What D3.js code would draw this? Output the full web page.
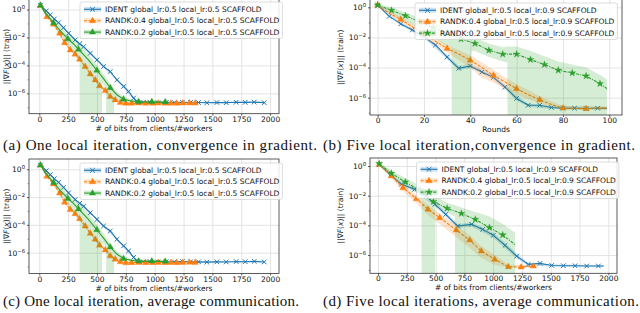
<!DOCTYPE html>
<html>
<head>
<meta charset="utf-8">
<script src="https://cdn.jsdelivr.net/npm/d3@7"></script>
<style>
  body { margin: 0; background: #fff; }
  svg text { font-family: "DejaVu Sans", sans-serif; fill: #111; }
  .caption { font-family: "Liberation Serif", serif; }
</style>
</head>
<body>
<div id="chart"></div>
<script>

// tick values
const bitTicks = [0, 250, 500, 750, 1000, 1250, 1500, 1750, 2000];
const roundTicks = [0, 20, 40, 60, 80, 100];
const yTickExps = [0, -2, -4, -6];
const yMinorExps = [1, -1, -3, -5, -7];

const legendOne = [
    "IDENT global_lr:0.5 local_lr:0.5 SCAFFOLD",
    "RANDK:0.4 global_lr:0.5 local_lr:0.5 SCAFFOLD",
    "RANDK:0.2 global_lr:0.5 local_lr:0.5 SCAFFOLD"
];
const legendFive = [
    "IDENT global_lr:0.5 local_lr:0.9 SCAFFOLD",
    "RANDK:0.4 global_lr:0.5 local_lr:0.9 SCAFFOLD",
    "RANDK:0.2 global_lr:0.5 local_lr:0.9 SCAFFOLD"
];
const captions = [
    "(a) One local iteration, convergence in gradient.",
    "(b) Five local iteration,convergence in gradient.",
    "(c) One local iteration, average communication.",
    "(d) Five local iterations, average communication."
];

// values are log10 of ||grad F(x)||, lines: [x, mean], bands: [x, low, high] (null low = below zero)
// one local iteration, x = bits/#workers  (same run in (a) and (c))
const identOne = [[10,0.3],[60,-0.1],[95,-0.39],[130,-0.68],[167,-0.94],[210,-1.3],[254,-1.7],[311,-2.18],[350,-2.45],[384,-2.66],[442,-3.13],[500,-3.61],[557,-4.08],[615,-4.44],[673,-5.04],[731,-5.51],[774,-5.87],[817,-6.34],[846,-6.58],[900,-6.66],[960,-6.64],[1030,-6.67],[1100,-6.65],[1170,-6.66],[1240,-6.64],[1310,-6.66],[1380,-6.66],[1452,-6.68],[1539,-6.66],[1620,-6.67],[1706,-6.64],[1784,-6.65],[1862,-6.63],[1949,-6.67]];
const identOneBand = [[10,0.25,0.35],[167,-1.0,-0.88],[311,-2.25,-2.1],[500,-3.68,-3.54],[673,-5.12,-4.96],[817,-6.42,-6.26],[846,-6.63,-6.52],[1000,-6.7,-6.6],[1949,-6.7,-6.62]];
const randk4One = [[10,0.3],[66,-0.51],[124,-1.06],[176,-1.7],[219,-2.37],[268,-2.89],[310,-3.2],[349,-3.56],[398,-4.08],[442,-4.61],[485,-5.04],[522,-5.46],[572,-5.8],[615,-6.23],[658,-6.47],[702,-6.66],[750,-6.72],[800,-6.72],[860,-6.7],[920,-6.72],[980,-6.72],[1030,-6.7],[1090,-6.72],[1140,-6.71],[1192,-6.72],[1244,-6.7],[1302,-6.69],[1351,-6.7]];
const randk4OneBand = [[10,0.22,0.38],[124,-1.15,-0.97],[219,-2.48,-2.26],[349,-3.68,-3.44],[485,-5.17,-4.91],[615,-6.38,-6.08],[702,-6.76,-6.56],[800,-6.77,-6.66],[1351,-6.76,-6.64]];
const randk2One = [[10,0.3],[67,-0.4],[124,-0.95],[185,-1.55],[248,-2.1],[295,-2.45],[340,-2.85],[420,-3.55],[499,-4.35],[557,-4.95],[615,-5.6],[672,-6.1],[730,-6.42],[795,-6.55],[860,-6.6],[918,-6.62],[975,-6.6],[1035,-6.63],[1091,-6.62]];
const randk2OneBand = [[10,0.2,0.4],[124,-1.15,-0.75],[200,-1.95,-1.3],[248,-2.55,-1.85],[300,-3.1,-2.2],[349,-3.5,-2.5],[350,null,-2.5],[420,null,-3.15],[499,null,-3.95],[543,null,-4.45],[544,-5.3,-4.5],[579,-5.6,-4.85],[580,null,-4.9],[615,null,-5.3],[648,null,-5.65],[649,-6.45,-5.7],[700,-6.55,-6.1],[730,-6.6,-6.25],[800,-6.65,-6.45],[1091,-6.67,-6.56]];

// five local iterations, x = rounds
const identRounds = [[0,0.15],[5,-0.6],[10,-1.1],[15,-1.5],[20,-1.95],[25,-2.5],[30,-3.3],[35,-4.05],[40,-3.9],[45,-4.3],[50,-4.65],[55,-5.3],[60,-6.05],[65,-6.5],[70,-6.5],[75,-6.65],[80,-6.7],[85,-6.7],[90,-6.72],[95,-6.7],[99,-6.7]];
const identRoundsBand = [[0,0.1,0.2],[10,-1.2,-1.0],[20,-2.05,-1.85],[30,-3.45,-3.15],[35,-4.2,-3.9],[40,-4.0,-3.75],[50,-4.8,-4.5],[55,-5.45,-5.15],[60,-6.2,-5.85],[65,-6.6,-6.4],[75,-6.75,-6.55],[99,-6.78,-6.62]];
const randk4Rounds = [[0,0.15],[5,-0.4],[10,-0.8],[15,-1.3],[20,-1.75],[25,-2.25],[30,-2.73],[35,-3.1],[40,-3.51],[45,-4.0],[50,-4.51],[55,-4.95],[60,-5.4],[65,-5.8],[70,-6.13],[75,-6.45],[80,-6.69],[85,-6.72],[90,-6.73],[95,-6.7],[99,-6.68]];
const randk4RoundsBand = [[0,0.1,0.2],[10,-1.0,-0.65],[20,-2.0,-1.55],[30,-3.0,-2.5],[35,-3.5,-2.85],[40,-4.0,-3.2],[45,-4.7,-3.65],[50,-5.0,-4.15],[55,-5.4,-4.65],[60,-5.8,-5.1],[70,-6.4,-5.9],[80,-6.8,-6.55],[99,-6.8,-6.58]];
const randk2Rounds = [[0,0.15],[6,-0.2],[12,-0.56],[18,-0.95],[24,-1.35],[30,-1.75],[36,-2.1],[42,-2.4],[48,-2.85],[54,-3.11],[60,-3.11],[66,-3.47],[72,-3.8],[78,-4.18],[84,-4.36],[90,-4.56],[96,-5.07],[99,-5.4]];
const randk2RoundsBand = [[0,0.1,0.2],[6,-0.45,0.0],[12,-0.9,-0.35],[18,-1.4,-0.7],[24,-1.95,-1.05],[30,-2.6,-1.4],[31.9,-2.7,-1.5],[32,null,-1.5],[36,null,-1.75],[40.4,null,-1.95],[40.5,-2.9,-1.95],[42,-2.9,-2.0],[48,-3.3,-2.4],[54,-3.6,-2.65],[56,-3.65,-2.6],[56.1,null,-2.6],[60,null,-2.6],[66,null,-2.9],[72,null,-3.25],[78,null,-3.6],[84,null,-3.8],[90,null,-4.0],[96,null,-4.5],[99,null,-4.8]];

// five local iterations, x = bits/#workers
const identFive = [[10,0.11],[110,-0.63],[203,-1.23],[318,-1.57],[420,-2.02],[495,-2.58],[588,-3.26],[692,-4.05],[813,-3.93],[909,-4.27],[1001,-4.67],[1103,-5.35],[1204,-6.07],[1305,-6.63],[1407,-6.56],[1508,-6.7],[1609,-6.72],[1711,-6.72],[1812,-6.74],[1913,-6.74],[1960,-6.74]];
const identFiveBand = [[10,0.05,0.18],[203,-1.35,-1.1],[318,-1.7,-1.45],[495,-2.72,-2.45],[588,-3.42,-3.1],[692,-4.2,-3.9],[813,-4.08,-3.8],[1001,-4.85,-4.5],[1103,-5.55,-5.15],[1204,-6.25,-5.9],[1305,-6.72,-6.52],[1508,-6.78,-6.62],[1960,-6.8,-6.68]];
const randk4Five = [[10,0.11],[116,-0.67],[217,-1.46],[333,-2.2],[434,-2.92],[536,-3.48],[680,-4.32],[796,-4.99],[897,-5.73],[1013,-6.29],[1132,-6.79],[1242,-6.81],[1349,-6.74]];
const randk4FiveBand = [[10,0.05,0.2],[116,-0.85,-0.5],[217,-1.7,-1.25],[333,-2.5,-1.95],[434,-3.3,-2.65],[536,-3.9,-3.2],[680,-4.8,-4.0],[796,-5.5,-4.65],[897,-6.2,-5.4],[1013,-6.65,-6.0],[1132,-6.85,-6.65],[1349,-6.85,-6.65]];
const randk2Five = [[10,0.15],[116,-0.49],[237,-1.08],[355,-1.6],[481,-2.4],[600,-2.85],[724,-3.2],[845,-3.6],[967,-4.15],[1083,-4.65],[1190,-5.3]];
const randk2FiveBand = [[10,0.05,0.25],[116,-0.7,-0.3],[237,-1.35,-0.8],[355,-1.9,-1.3],[378,-2.0,-1.4],[379,null,-1.4],[495,null,-2.0],[496,-2.75,-2.0],[600,-3.15,-2.5],[668,-3.4,-2.65],[669,null,-2.65],[724,null,-2.8],[845,null,-3.1],[967,null,-3.4],[1083,null,-3.9],[1190,null,-4.5]];


const width = 640, height = 313;
const svg = d3.select("#chart").append("svg")
    .attr("width", width)
    .attr("height", height);

const blue = "#1f77b4", orange = "#ff7f0e", green = "#2ca02c";
const fontSize = "7.5px";

const markerPaths = {
    x: "M-2.3,-2.3L2.3,2.3M2.3,-2.3L-2.3,2.3",
    tri: "M0,-3.6L3.2,2L-3.2,2Z",
    star: d3.symbol().type(d3.symbolStar).size(16)()
};

function makeSeries(line, band, kind, dash, every, lastMark) {
    let color = kind == "blue" ? blue : kind == "orange" ? orange : green;
    let marker = kind == "blue" ? "x" : (dash == "green-star" ? "star" : "tri");
    return {line: line, band: band, color: color, marker: marker,
        dash: kind == "orange" ? "3,1.5" : (dash == "green-star" ? "3,1.2,1,1.2" : null),
        every: every, lastMark: lastMark};
}

const seriesOne = [
    makeSeries(identOne, identOneBand, "blue", null, 1, true),
    makeSeries(randk4One, randk4OneBand, "orange", null, 1, true),
    makeSeries(randk2One, randk2OneBand, "green", null, 2, true)
];
const seriesRounds = [
    makeSeries(identRounds, identRoundsBand, "blue", null, 1, false),
    makeSeries(randk4Rounds, randk4RoundsBand, "orange", null, 2, false),
    makeSeries(randk2Rounds, randk2RoundsBand, "green", "green-star", 1, false)
];
const seriesFive = [
    makeSeries(identFive, identFiveBand, "blue", null, 1, false),
    makeSeries(randk4Five, randk4FiveBand, "orange", null, 1, true),
    makeSeries(randk2Five, randk2FiveBand, "green", "green-star", 1, false)
];

const panels = [
    {key: "a", left: 29, right: 279, top: -0.8, bottom: 113.7, xDomain: [-89, 2077], yExp: [-7.46, 0.74],
     xTicks: bitTicks, xLabel: "# of bits from clients/#workers", series: seriesOne, legend: legendOne,
     legX: 80, legY: 2, yLabelX: 6, caption: captions[0], capX: 3, capY: 149.5, capW: 314},
    {key: "b", left: 370, right: 622, top: -0.5, bottom: 115, xDomain: [-3.3, 105.5], yExp: [-7.15, 0.52],
     xTicks: roundTicks, xLabel: "Rounds", series: seriesRounds, legend: legendFive,
     legX: 415, legY: 3, yLabelX: 340.5, caption: captions[1], capX: 323, capY: 149.5, capW: 312},
    {key: "c", left: 29, right: 279, top: 159, bottom: 273.5, xDomain: [-89, 2077], yExp: [-7.5, 0.74],
     xTicks: bitTicks, xLabel: "# of bits from clients/#workers", series: seriesOne, legend: legendOne,
     legX: 80, legY: 163, yLabelX: 6, caption: captions[2], capX: 3, capY: 306, capW: 296},
    {key: "d", left: 370, right: 617, top: 158, bottom: 273.3, xDomain: [-69.5, 2075], yExp: [-7.23, 0.54],
     xTicks: bitTicks, xLabel: "# of bits from clients/#workers", series: seriesFive, legend: legendFive,
     legX: 416.5, legY: 162, yLabelX: 340.5, caption: captions[3], capX: 323, capY: 306, capW: 316}
];

panels.forEach(drawPanel);

function drawPanel(p) {
    const g = svg.append("g");
    const pw = p.right - p.left, ph = p.bottom - p.top;

    const xScale = d3.scaleLinear().domain(p.xDomain).range([p.left, p.right]);
    const yScale = d3.scaleLog()
        .domain([Math.pow(10, p.yExp[0]), Math.pow(10, p.yExp[1])])
        .range([p.bottom, p.top]);
    const yOf = e => yScale(Math.pow(10, e));

    svg.append("clipPath").attr("id", "clip-" + p.key)
        .append("rect")
        .attr("x", p.left).attr("y", p.top)
        .attr("width", pw).attr("height", ph);

    // grid
    g.append("g")
        .attr("transform", `translate(0,${p.bottom})`)
        .call(d3.axisBottom(xScale).tickValues(p.xTicks).tickSize(-ph).tickFormat(""))
        .call(a => a.select(".domain").remove())
        .selectAll("line").attr("stroke", "#dcdcdc").attr("stroke-width", 0.8);
    g.append("g")
        .attr("transform", `translate(${p.left},0)`)
        .call(d3.axisLeft(yScale).tickValues(yTickExps.map(e => Math.pow(10, e))).tickSize(-pw).tickFormat(""))
        .call(a => a.select(".domain").remove())
        .selectAll("line").attr("stroke", "#dcdcdc").attr("stroke-width", 0.8);

    // data
    const plot = g.append("g").attr("clip-path", `url(#clip-${p.key})`);
    p.series.forEach(function (s) {
        const area = d3.area()
            .x(d => xScale(d[0]))
            .y0(d => d[1] === null ? p.bottom + 5 : yOf(d[1]))
            .y1(d => yOf(d[2]));
        plot.append("path")
            .datum(s.band)
            .attr("d", area)
            .attr("fill", s.color)
            .attr("fill-opacity", 0.2);

        const line = d3.line()
            .x(d => xScale(d[0]))
            .y(d => yOf(d[1]));
        plot.append("path")
            .datum(s.line)
            .attr("d", line)
            .attr("fill", "none")
            .attr("stroke", s.color)
            .attr("stroke-width", 1.1)
            .attr("stroke-dasharray", s.dash);

        let marks = s.line.filter((d, i) => i % s.every === 0 && (s.lastMark || i < s.line.length - 1));
        plot.selectAll(null)
            .data(marks)
            .join("path")
            .attr("transform", d => `translate(${xScale(d[0])},${yOf(d[1])})`)
            .attr("d", markerPaths[s.marker])
            .attr("fill", s.marker == "x" ? "none" : s.color)
            .attr("stroke", s.color)
            .attr("stroke-width", s.marker == "x" ? 1 : 0.3);
    });

    // frame
    g.append("rect")
        .attr("x", p.left).attr("y", p.top)
        .attr("width", pw).attr("height", ph)
        .attr("fill", "none")
        .attr("stroke", "#333")
        .attr("stroke-width", 0.8);

    // x axis
    g.append("g")
        .attr("transform", `translate(0,${p.bottom})`)
        .call(d3.axisBottom(xScale).tickValues(p.xTicks).tickFormat(d3.format("d")).tickSize(2).tickPadding(0.8))
        .call(a => a.select(".domain").remove())
        .call(a => a.selectAll("line").attr("stroke", "#333").attr("stroke-width", 0.8))
        .selectAll("text")
        .attr("font-size", fontSize)
        .attr("font-family", "DejaVu Sans")
        .attr("fill", "#111");

    // y axis, major with superscript labels
    g.append("g")
        .attr("transform", `translate(${p.left},0)`)
        .call(d3.axisLeft(yScale).tickValues(yTickExps.map(e => Math.pow(10, e))).tickSize(2).tickPadding(2)
            .tickFormat(""))
        .call(a => a.select(".domain").remove())
        .call(a => a.selectAll("line").attr("stroke", "#333").attr("stroke-width", 0.8))
        .selectAll("text")
        .attr("font-size", fontSize)
        .attr("font-family", "DejaVu Sans")
        .attr("fill", "#111")
        .each(function (d) {
            const t = d3.select(this);
            const e = Math.round(Math.log10(d));
            t.append("tspan").text("10");
            t.append("tspan").attr("dy", "-3").attr("font-size", "5.3px")
                .text(e < 0 ? "\u2212" + (-e) : String(e));
        });
    // y axis, minor ticks
    g.append("g")
        .attr("transform", `translate(${p.left},0)`)
        .call(d3.axisLeft(yScale)
            .tickValues(yMinorExps.map(e => Math.pow(10, e)).filter(v => v > yScale.domain()[0] && v < yScale.domain()[1]))
            .tickSize(1.2).tickFormat(""))
        .call(a => a.select(".domain").remove())
        .selectAll("line").attr("stroke", "#333").attr("stroke-width", 0.6);

    // axis labels
    g.append("text")
        .attr("x", (p.left + p.right) / 2)
        .attr("y", p.bottom + 17)
        .attr("text-anchor", "middle")
        .attr("font-size", fontSize)
        .text(p.xLabel);

    const yl = g.append("text")
        .attr("transform", `translate(${p.yLabelX},${(p.top + p.bottom) / 2}) rotate(-90)`)
        .attr("dy", "0.35em")
        .attr("text-anchor", "middle")
        .attr("font-size", fontSize);
    yl.append("tspan").text("||\u2207");
    yl.append("tspan").attr("font-style", "italic").text("F");
    yl.append("tspan").text("(");
    yl.append("tspan").attr("font-style", "italic").text("x");
    yl.append("tspan").text(")|| (train)");

    // legend
    const leg = g.append("g").attr("transform", `translate(${p.legX},${p.legY})`);
    const box = leg.append("rect")
        .attr("rx", 2).attr("ry", 2)
        .attr("fill", "#fff").attr("fill-opacity", 0.85)
        .attr("stroke", "#cfcfcf").attr("stroke-width", 0.7);
    let maxLen = 0;
    p.series.forEach(function (s, i) {
        const cy = 7.3 + i * 11.4;
        const row = leg.append("g");
        row.append("rect")
            .attr("x", 4).attr("y", cy - 2.5)
            .attr("width", 17).attr("height", 5)
            .attr("fill", s.color).attr("fill-opacity", 0.2);
        row.append("line")
            .attr("x1", 4).attr("x2", 21).attr("y1", cy).attr("y2", cy)
            .attr("stroke", s.color).attr("stroke-width", 1.1)
            .attr("stroke-dasharray", s.dash);
        row.append("path")
            .attr("transform", `translate(12.5,${cy})`)
            .attr("d", markerPaths[s.marker])
            .attr("fill", s.marker == "x" ? "none" : s.color)
            .attr("stroke", s.color)
            .attr("stroke-width", s.marker == "x" ? 1 : 0.3);
        const txt = row.append("text")
            .attr("x", 25).attr("y", cy)
            .attr("dy", "0.35em")
            .attr("font-size", fontSize)
            .text(p.legend[i]);
        maxLen = Math.max(maxLen, txt.node().getComputedTextLength());
    });
    box.attr("width", 25 + maxLen + 3).attr("height", 36.5);

    // caption
    svg.append("text")
        .attr("class", "caption")
        .attr("x", p.capX)
        .attr("y", p.capY)
        .attr("font-size", "15px")
        .attr("textLength", p.capW)
        .attr("lengthAdjust", "spacing")
        .text(p.caption);
}

</script>
</body>
</html>
